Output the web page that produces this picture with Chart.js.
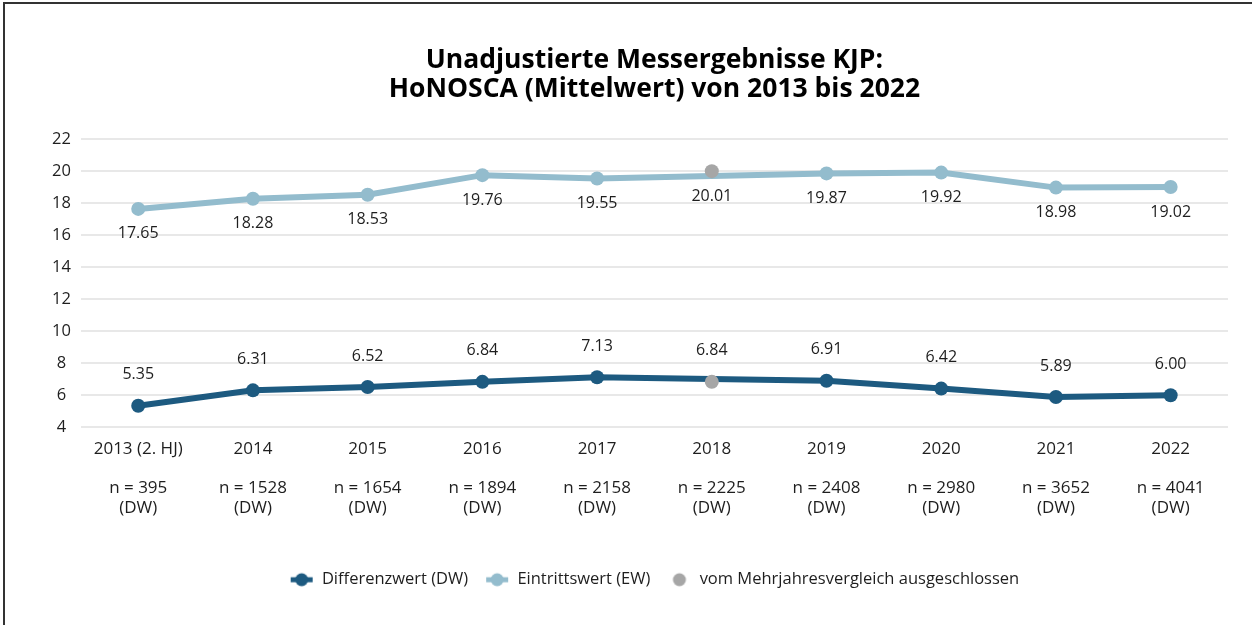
<!DOCTYPE html>
<html>
<head>
<meta charset="utf-8">
<script src="https://cdn.jsdelivr.net/npm/chart.js@4.4.1/dist/chart.umd.min.js"></script>
<style>
  html, body { margin: 0; padding: 0; background: #fff; overflow: hidden; }
  #wrap { position: relative; width: 1252px; height: 625px; }
  #frame { position: absolute; left: 3px; top: 2px; width: 1300px; height: 700px;
           border-left: 2px solid #333; border-top: 2px solid #333; pointer-events: none; }
  canvas { display: block; }
</style>
</head>
<body>
<div id="wrap">
  <canvas id="c" width="1252" height="625"></canvas>
  <div id="frame"></div>
</div>
<script>
// ---- data ----
const categories = ['2013 (2. HJ)', '2014', '2015', '2016', '2017', '2018', '2019', '2020', '2021', '2022'];
const sampleSizes = [395, 1528, 1654, 1894, 2158, 2225, 2408, 2980, 3652, 4041];
const dwValues = [5.35, 6.31, 6.52, 6.84, 7.13, 6.84, 6.91, 6.42, 5.89, 6.00];
const ewValues = [17.65, 18.28, 18.53, 19.76, 19.55, 20.01, 19.87, 19.92, 18.98, 19.02];
const excludedCategories = ['2018'];
const yMin = 4, yMax = 22, yStep = 2;
const titleLines = ['Unadjustierte Messergebnisse KJP:', 'HoNOSCA (Mittelwert) von 2013 bis 2022'];
const seriesNames = ['Differenzwert (DW)', 'Eintrittswert (EW)', 'vom Mehrjahresvergleich ausgeschlossen'];

// ---- styles ----
const DW_COLOR = '#1d5a80';
const EW_COLOR = '#93bccd';
const EX_COLOR = '#a6a6a6';
const FONT = "'Open Sans', 'Noto Sans', sans-serif";
const TEXT = '#1e1e1e';

const isExcluded = (i) => excludedCategories.includes(categories[i]);
const dwLine = dwValues.map((v, i) => isExcluded(i) ? null : v);
const ewLine = ewValues.map((v, i) => isExcluded(i) ? null : v);
const excludedPoints = [];
categories.forEach((c, i) => {
  if (isExcluded(i)) {
    excludedPoints.push({x: c, y: ewValues[i]});
    excludedPoints.push({x: c, y: dwValues[i]});
  }
});
const tickLabels = categories.map((c, i) => [c, '', 'n = ' + sampleSizes[i], '(DW)']);

function legendIcon(color, withLine) {
  const cv = document.createElement('canvas');
  cv.width = 24; cv.height = 16;
  const g = cv.getContext('2d');
  if (withLine) {
    g.strokeStyle = color; g.lineWidth = 5;
    g.beginPath(); g.moveTo(1, 8); g.lineTo(23, 8); g.stroke();
  }
  g.fillStyle = color;
  g.beginPath(); g.arc(12, 8, 6.5, 0, Math.PI * 2); g.fill();
  return cv;
}
const icons = [legendIcon(DW_COLOR, true), legendIcon(EW_COLOR, true), legendIcon(EX_COLOR, false)];

const valueLabels = {
  id: 'valueLabels',
  afterDatasetsDraw(chart) {
    const {ctx, scales: {x, y}} = chart;
    ctx.save();
    ctx.font = '16px ' + FONT;
    ctx.fillStyle = TEXT;
    ctx.textAlign = 'center';
    ctx.textBaseline = 'middle';
    categories.forEach((c, i) => {
      const px = x.getPixelForValue(i);
      ctx.fillText(dwValues[i].toFixed(2), px, y.getPixelForValue(dwValues[i]) - 31);
      ctx.fillText(ewValues[i].toFixed(2), px, y.getPixelForValue(ewValues[i]) + 25);
    });
    ctx.restore();
  }
};

new Chart(document.getElementById('c'), {
  type: 'line',
  data: {
    labels: categories,
    datasets: [
      { label: seriesNames[0], data: dwLine, borderColor: DW_COLOR, backgroundColor: DW_COLOR,
        borderWidth: 6, pointRadius: 7, pointBorderWidth: 0, spanGaps: true, order: 1 },
      { label: seriesNames[1], data: ewLine, borderColor: EW_COLOR, backgroundColor: EW_COLOR,
        borderWidth: 6, pointRadius: 7, pointBorderWidth: 0, spanGaps: true, order: 2 },
      { label: seriesNames[2], data: excludedPoints, showLine: false, borderColor: EX_COLOR,
        backgroundColor: EX_COLOR, pointRadius: 7, pointBorderWidth: 0, order: 0 }
    ]
  },
  options: {
    responsive: false,
    animation: false,
    events: [],
    layout: { padding: { left: 42, right: 24, top: 0, bottom: 27 } },
    scales: {
      x: {
        offset: true,
        grid: { display: false, drawTicks: false },
        border: { display: false },
        ticks: { color: TEXT, font: { family: FONT, size: 17, lineHeight: 1.15 }, padding: 12,
                 maxRotation: 0, autoSkip: false,
                 callback: (v, i) => tickLabels[i] },
        afterFit: (s) => { s.height += 25; }
      },
      y: {
        min: yMin, max: yMax,
        grid: { color: '#e8e8e8', lineWidth: 2, drawTicks: false },
        border: { display: false },
        ticks: { stepSize: yStep, color: TEXT, crossAlign: 'center', padding: 10,
                 font: { family: FONT, size: 16.5 } }
      }
    },
    plugins: {
      title: {
        display: true, text: titleLines, fullSize: false, color: '#000',
        font: { family: FONT, size: 26.5, weight: 'bold', lineHeight: 1.1 },
        padding: { top: 46, bottom: 35 }
      },
      legend: {
        position: 'bottom', fullSize: false,
        labels: {
          usePointStyle: true, pointStyleWidth: 24, padding: 17, color: TEXT,
          font: { family: FONT, size: 16.5 },
          generateLabels: () => seriesNames.map((t, i) => ({
            text: t, pointStyle: icons[i], datasetIndex: i, hidden: false,
            fillStyle: 'transparent', strokeStyle: 'transparent', lineWidth: 0, fontColor: TEXT
          }))
        }
      },
      tooltip: { enabled: false }
    }
  },
  plugins: [valueLabels]
});
</script>
</body>
</html>
